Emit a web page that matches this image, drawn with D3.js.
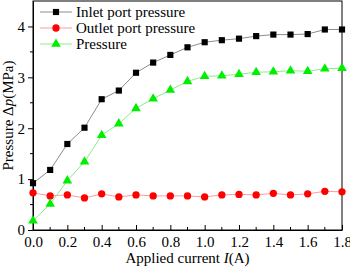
<!DOCTYPE html>
<html>
<head>
<meta charset="utf-8">
<script src="https://cdn.jsdelivr.net/npm/d3@7"></script>
<style>
  body { margin: 0; background: #fff; }
  svg text { font-family: "Liberation Serif", "Times New Roman", serif; }
</style>
</head>
<body>
<svg id="chart" width="350" height="270"></svg>
<script>
let currents = [0, 0.1, 0.2, 0.3, 0.4, 0.5, 0.6, 0.7, 0.8, 0.9, 1.0, 1.1, 1.2, 1.3, 1.4, 1.5, 1.6, 1.7, 1.8]
let inletPressure = [0.92, 1.18, 1.69, 2.01, 2.57, 2.74, 3.09, 3.29, 3.44, 3.59, 3.69, 3.73, 3.76, 3.81, 3.84, 3.84, 3.85, 3.94, 3.94]
let outletPressure = [0.73, 0.67, 0.69, 0.63, 0.71, 0.65, 0.69, 0.67, 0.67, 0.67, 0.65, 0.69, 0.70, 0.69, 0.72, 0.69, 0.71, 0.76, 0.75]
let diffPressure = [0.18, 0.51, 0.97, 1.34, 1.86, 2.09, 2.39, 2.58, 2.75, 2.92, 3.02, 3.03, 3.06, 3.10, 3.11, 3.13, 3.12, 3.17, 3.18]
let seriesNames = ["Inlet port pressure", "Outlet port pressure", "Pressure"]
let xTicks = [0, 0.2, 0.4, 0.6, 0.8, 1.0, 1.2, 1.4, 1.6, 1.8]
let yTicks = [0, 1, 2, 3, 4]

let margin = { top: 1, right: 8, bottom: 40, left: 33 }
let width = 350, height = 270
let bodyWidth = width - margin.left - margin.right
let bodyHeight = height - margin.top - margin.bottom

let svg = d3.select("#chart")
let body = svg.append("g").attr("transform", `translate(${margin.left},${margin.top})`)

let xScale = d3.scaleLinear().domain([0, 1.8]).range([0, bodyWidth])
let yScale = d3.scaleLinear().domain([0, 4.5]).range([bodyHeight, 0])

// frame
body.append("rect")
  .attr("width", bodyWidth).attr("height", bodyHeight)
  .attr("fill", "none").attr("stroke", "#000").attr("stroke-width", 1)

// x axis: ticks inward, minor every 0.1
let xAxis = body.append("g").attr("transform", `translate(0,${bodyHeight})`)
xAxis.call(d3.axisBottom(xScale).tickValues(xTicks).tickFormat(d3.format(".1f")).tickSizeInner(-5).tickSizeOuter(0).tickPadding(5))
xAxis.selectAll(".domain").attr("stroke", "#000")
xAxis.selectAll("text").attr("font-size", 15).attr("fill", "#000").attr("dy", "0.75em").attr("y", 6)
let xMinor = d3.range(0.1, 1.8, 0.2)
xAxis.selectAll(".minor").data(xMinor).enter().append("line")
  .attr("x1", d => xScale(d)).attr("x2", d => xScale(d))
  .attr("y1", 0).attr("y2", -3).attr("stroke", "#000")

// y axis: ticks outward, minor every 0.5
let yAxis = body.append("g")
yAxis.call(d3.axisLeft(yScale).tickValues(yTicks).tickFormat(d3.format("d")).tickSizeInner(5).tickSizeOuter(0).tickPadding(3))
yAxis.selectAll("text").attr("font-size", 15).attr("fill", "#000")
let yMinor = [0.5, 1.5, 2.5, 3.5]
yAxis.selectAll(".minor").data(yMinor).enter().append("line")
  .attr("x1", 0).attr("x2", -3)
  .attr("y1", d => yScale(d)).attr("y2", d => yScale(d)).attr("stroke", "#000")

// axis titles
let xTitle = svg.append("text")
  .attr("x", margin.left + bodyWidth / 2).attr("y", 263)
  .attr("text-anchor", "middle").attr("font-size", 15)
xTitle.append("tspan").text("Applied current ")
xTitle.append("tspan").attr("font-style", "italic").text("I")
xTitle.append("tspan").text("(A)")

let yTitle = svg.append("text")
  .attr("transform", `translate(13,${margin.top + bodyHeight / 2}) rotate(-90)`)
  .attr("text-anchor", "middle").attr("font-size", 15)
yTitle.append("tspan").text("Pressure \u0394")
yTitle.append("tspan").attr("font-style", "italic").text("p")
yTitle.append("tspan").text("(MPa)")

let series = [
  { name: seriesNames[0], values: inletPressure, line: "#8c8c8c", fill: "#000", shape: d3.symbolSquare, size: 38 },
  { name: seriesNames[1], values: outletPressure, line: "#ff9a9a", fill: "#ff0000", shape: d3.symbolCircle, size: 42 },
  { name: seriesNames[2], values: diffPressure, line: "#88ee88", fill: "#00ee00", shape: d3.symbolTriangle, size: 40 }
]

let line = d3.line().x((d, i) => xScale(currents[i])).y(d => yScale(d))

series.forEach(s => {
  body.append("path").datum(s.values)
    .attr("d", line).attr("fill", "none").attr("stroke", s.line).attr("stroke-width", 1)
  body.selectAll(null).data(s.values).enter().append("path")
    .attr("d", d3.symbol().type(s.shape).size(s.size))
    .attr("transform", (d, i) => `translate(${xScale(currents[i])},${yScale(d)})`)
    .attr("fill", s.fill)
})

// legend
let legend = svg.append("g").attr("transform", "translate(40,12)")
series.forEach((s, i) => {
  let row = legend.append("g").attr("transform", `translate(0,${i * 16})`)
  row.append("line").attr("x1", 0).attr("x2", 32).attr("y1", 0).attr("y2", 0)
    .attr("stroke", s.line).attr("stroke-width", 1)
  row.append("path").attr("d", d3.symbol().type(s.shape).size(s.size)).attr("transform", "translate(16,0)").attr("fill", s.fill)
  row.append("text").attr("x", 36).attr("y", 0).attr("dy", "0.35em").attr("font-size", 15).text(s.name)
})
</script>
</body>
</html>
